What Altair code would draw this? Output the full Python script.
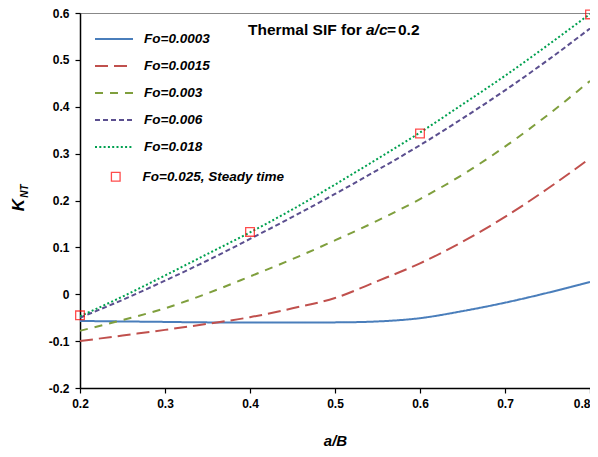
import altair as alt
import pandas as pd

x_vals = [0.2, 0.25, 0.3, 0.35, 0.4, 0.45, 0.5, 0.55, 0.6, 0.65, 0.7, 0.75, 0.8]
fo_0003 = [-0.057, -0.058, -0.059, -0.060, -0.060, -0.060, -0.060, -0.058, -0.051, -0.036, -0.018, 0.003, 0.026]
fo_0015 = [-0.100, -0.088, -0.076, -0.063, -0.049, -0.030, -0.008, 0.028, 0.066, 0.112, 0.165, 0.225, 0.290]
fo_003 = [-0.078, -0.055, -0.030, 0.002, 0.038, 0.075, 0.115, 0.157, 0.203, 0.255, 0.315, 0.382, 0.455]
fo_006 = [-0.050, -0.012, 0.029, 0.072, 0.118, 0.165, 0.214, 0.265, 0.318, 0.375, 0.435, 0.499, 0.567]
fo_018 = [-0.047, -0.005, 0.040, 0.086, 0.132, 0.181, 0.234, 0.289, 0.345, 0.405, 0.466, 0.531, 0.598]

steady_x = [0.2, 0.4, 0.6, 0.8]
steady_y = [-0.045, 0.133, 0.343, 0.597]

series_names = ["Fo=0.0003", "Fo=0.0015", "Fo=0.003", "Fo=0.006", "Fo=0.018"]
series_colors = ["#4A7EBB", "#C0504D", "#7F9F3D", "#5B4F8F", "#00A050"]
series_dashes = [[1, 0], [13, 6], [8, 7], [5, 3], [2, 2.3]]
marker_name = "Fo=0.025, Steady time"

x_ticks = [0.2, 0.3, 0.4, 0.5, 0.6, 0.7, 0.8]
y_ticks = [-0.2, -0.1, 0, 0.1, 0.2, 0.3, 0.4, 0.5, 0.6]

rows = []
for name, ys in zip(series_names, [fo_0003, fo_0015, fo_003, fo_006, fo_018]):
    for xv, yv in zip(x_vals, ys):
        rows.append({"x": xv, "y": yv, "series": name})
df = pd.DataFrame(rows)
dm = pd.DataFrame({"x": steady_x, "y": steady_y, "marker": [marker_name] * len(steady_x)})

FONT = "Liberation Sans"

xscale = alt.Scale(domain=[0.2, 0.8], nice=False, zero=False)
yscale = alt.Scale(domain=[-0.2, 0.6], nice=False, zero=False)

y_label_expr = "(datum.value < -0.0001 ? '-' : '') + (abs(datum.value) < 0.0001 ? '0' : format(abs(datum.value), '.1f'))"

legend_common = dict(title=None, orient="none", legendX=14, legendY=6,
                     symbolType="stroke", symbolSize=1444, symbolStrokeWidth=2,
                     labelFontStyle="italic", labelFontWeight="bold",
                     labelFontSize=13.5, labelFont=FONT, labelColor="black",
                     rowPadding=-10.5, labelOffset=10)

lines = alt.Chart(df).mark_line(strokeWidth=2, interpolate="monotone", clip=True).encode(
    x=alt.X("x:Q", scale=xscale,
            axis=alt.Axis(title="a/B", values=x_ticks, format=".1f",
                          titleFontStyle="italic", titlePadding=24,
                          labelAlign={"condition": {"test": "datum.value > 0.79", "value": "right"},
                                      "value": "center"})),
    y=alt.Y("y:Q", scale=yscale,
            axis=alt.Axis(title=None, values=y_ticks, labelExpr=y_label_expr)),
    color=alt.Color("series:N", scale=alt.Scale(domain=series_names, range=series_colors),
                    legend=alt.Legend(**legend_common)),
    strokeDash=alt.StrokeDash("series:N", scale=alt.Scale(domain=series_names, range=series_dashes),
                              legend=alt.Legend(**legend_common)),
)

points = alt.Chart(dm).mark_point(shape="square", filled=False, size=75, strokeWidth=1.3,
                                  color="#FF0000", clip=False).encode(
    x=alt.X("x:Q", scale=xscale),
    y=alt.Y("y:Q", scale=yscale),
    shape=alt.Shape("marker:N", scale=alt.Scale(domain=[marker_name], range=["square"]),
                    legend=alt.Legend(title=None, orient="none", legendX=29, legendY=157,
                                      symbolStrokeColor="#FF0000", symbolFillColor="white",
                                      symbolSize=75, symbolStrokeWidth=1.3,
                                      labelFontStyle="italic", labelFontWeight="bold",
                                      labelFontSize=13.5, labelFont=FONT, labelColor="black",
                                      labelOffset=20)),
)

def txt(text, x, y, size, style="normal", align="left", angle=0):
    return alt.Chart().mark_text(text=text, align=align, baseline="alphabetic", angle=angle,
                                 fontSize=size, fontWeight="bold", fontStyle=style,
                                 font=FONT, color="black").encode(x=alt.value(x), y=alt.value(y))

annotations = alt.layer(
    txt("Thermal SIF for", 168, 22, 15.5),
    txt("a/c", 286, 22, 15.5, style="italic"),
    txt("=", 307, 22, 15.5),
    txt("0.2", 318, 22, 15.5),
    txt("K", -56, 192, 17, style="italic", align="center", angle=270),
    txt("NT", -52, 178, 10, style="italic", align="center", angle=270),
)

chart = alt.layer(lines, points, annotations).properties(
    width=510, height=375,
    autosize=alt.AutoSizeParams(type="none"),
    padding={"left": 72, "top": 5, "right": 0, "bottom": 61},
).configure_view(
    stroke="#888888", strokeWidth=1
).configure_axis(
    labelFont=FONT, labelFontSize=12, labelFontWeight="bold", labelColor="black",
    titleFont=FONT, titleFontSize=15, titleFontWeight="bold", titleColor="black",
    domainColor="black", domainWidth=1.5, tickColor="black", tickWidth=1.2, tickSize=5,
    grid=False, labelPadding=5
).configure_axisY(
    labelPadding=6
)

chart.save("out.html", embed_options={"renderer": "svg", "actions": False})
